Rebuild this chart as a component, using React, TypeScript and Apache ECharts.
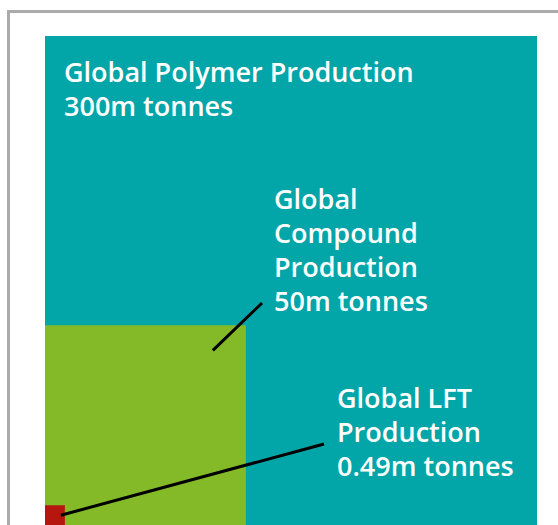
import React, { useEffect, useRef } from "react";
import * as echarts from "echarts";

// Data
const categories = ["Global Polymer Production", "Global Compound Production", "Global LFT Production"];
const values = [300, 50, 0.49]; // million tonnes
const labelTexts = [
  "Global Polymer Production\n300m tonnes",
  "Global\nCompound\nProduction\n50m tonnes",
  "Global LFT\nProduction\n0.49m tonnes",
];
const colors = ["#02A6A8", "#84BA27", "#B5170F"];

// Layout of annotations (pixels)
const labelPos: [number, number][] = [
  [64, 54],
  [274, 181],
  [337, 380],
];
// leader line: start offset from square's top-right corner, end point
const leaderStartOffset: ([number, number] | null)[] = [null, [-33, 25], [-4, 10]];
const leaderEnd: ([number, number] | null)[] = [null, [262, 303], [324, 444]];

const maxSide = Math.sqrt(Math.max(...values));

export default function App() {
  const ref = useRef<HTMLDivElement>(null);
  useEffect(() => {
    if (!ref.current) return;
    const chart = echarts.init(ref.current, null, { renderer: "svg" });
    const data = values.map((v, i) => ({ name: categories[i], value: [Math.sqrt(v), v, i] }));
    chart.setOption({
      animation: false,
      backgroundColor: "#ffffff",
      grid: { left: 45, top: 36, width: 492, height: 492 },
      xAxis: { type: "value", min: 0, max: maxSide, show: false },
      yAxis: { type: "value", min: 0, max: maxSide, show: false },
      graphic: [
        {
          type: "rect",
          shape: { x: 8.5, y: 11.5, width: 600, height: 600 },
          style: { fill: "none", stroke: "#ababab", lineWidth: 3 },
          z: 100,
        },
      ],
      series: [
        {
          type: "custom",
          data,
          encode: { x: 0, y: 0 },
          renderItem: (params: any, api: any) => {
            const side = api.value(0);
            const idx = api.value(2);
            const tl = api.coord([0, side]);
            const br = api.coord([side, 0]);
            const children: any[] = [
              {
                type: "rect",
                shape: { x: tl[0], y: tl[1], width: br[0] - tl[0], height: br[1] - tl[1] },
                style: { fill: colors[idx] },
              },
            ];
            const off = leaderStartOffset[idx];
            const end = leaderEnd[idx];
            if (off && end) {
              children.push({
                type: "line",
                shape: { x1: br[0] + off[0], y1: tl[1] + off[1], x2: end[0], y2: end[1] },
                style: { stroke: "#000000", lineWidth: 3 },
                z2: 10,
              });
            }
            children.push({
              type: "text",
              x: labelPos[idx][0],
              y: labelPos[idx][1],
              style: {
                text: labelTexts[idx],
                fill: "#ffffff",
                fontFamily: "Open Sans",
                fontWeight: 600,
                fontSize: 27,
                lineHeight: 34,
                align: "left",
                verticalAlign: "top",
              },
              z2: 20,
            });
            return { type: "group", children };
          },
        },
      ],
    });
    return () => chart.dispose();
  }, []);
  return (
    <div
      ref={ref}
      style={{ position: "fixed", left: 0, top: 0, width: 558, height: 525 }}
    />
  );
}
